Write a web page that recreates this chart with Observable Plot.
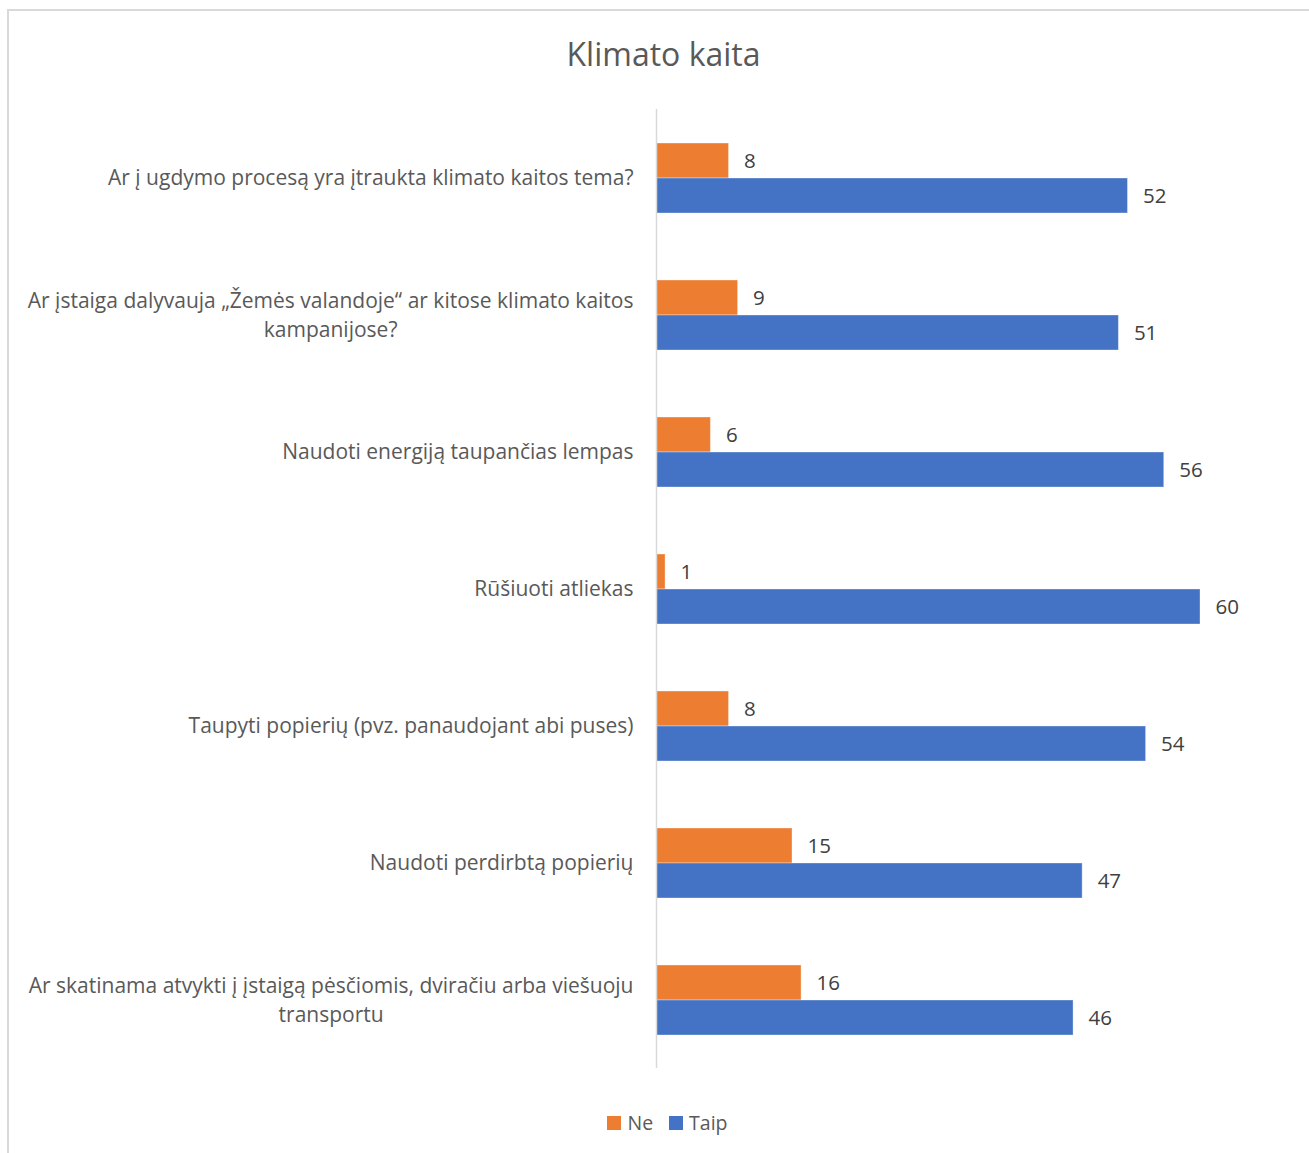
<!DOCTYPE html>
<html>
<head>
<meta charset="utf-8">
<script src="https://cdn.jsdelivr.net/npm/d3@7"></script>
<script src="https://cdn.jsdelivr.net/npm/@observablehq/plot@0.6"></script>
<style>
  html, body { margin: 0; padding: 0; background: #fff; }
  body { width: 1309px; height: 1153px; position: relative; overflow: hidden; font-family: "Open Sans", sans-serif; }
  #frame { position: absolute; left: 7px; top: 9px; width: 1320px; height: 1160px; border: 2px solid #d9d9d9; box-sizing: border-box; }
  #title { position: absolute; left: 9px; width: 1309px; top: 32px; text-align: center; font-size: 32px; color: #595959; line-height: 44px; }
  #chart { position: absolute; left: 0; top: 107px; }
  #legend { position: absolute; left: 0; width: 1309px; top: 1110px; display: flex; justify-content: center; gap: 16px; font-size: 19.5px; color: #595959; padding-left: 26px; box-sizing: border-box; }
  .item { display: flex; align-items: center; gap: 6px; line-height: 26px; }
  .sw { width: 14px; height: 14px; display: inline-block; }
</style>
</head>
<body>
<div id="frame"></div>
<div id="title">Klimato kaita</div>
<div id="chart"></div>
<div id="legend">
  <div class="item"><span class="sw" style="background:#ED7D31"></span>Ne</div>
  <div class="item"><span class="sw" style="background:#4472C4"></span>Taip</div>
</div>
<script>
const categories = [
  "Ar į ugdymo procesą yra įtraukta klimato kaitos tema?",
  "Ar įstaiga dalyvauja „Žemės valandoje“ ar kitose klimato kaitos\nkampanijose?",
  "Naudoti energiją taupančias lempas",
  "Rūšiuoti atliekas",
  "Taupyti popierių (pvz. panaudojant abi puses)",
  "Naudoti perdirbtą popierių",
  "Ar skatinama atvykti į įstaigą pėsčiomis, dviračiu arba viešuoju\ntransportu"
];
const series = ["Ne", "Taip"];
const ne = [8, 9, 6, 1, 8, 15, 16];
const taip = [52, 51, 56, 60, 54, 47, 46];
const colors = ["#ED7D31", "#4472C4"];

const rows = categories.flatMap((c, i) => [
  {cat: c, series: "Ne", value: ne[i]},
  {cat: c, series: "Taip", value: taip[i]}
]);

const chart = Plot.plot({
  width: 1309,
  height: 963,
  marginLeft: 656,
  marginRight: 109,
  marginTop: 0,
  marginBottom: 0,
  style: {fontFamily: "Open Sans, sans-serif", color: "#595959", background: "transparent"},
  x: {domain: [0, 60], axis: null},
  y: {domain: series, paddingInner: 0, paddingOuter: 0.92, axis: null},
  fy: {domain: categories, padding: 0, label: null},
  color: {domain: series, range: colors},
  marks: [
    Plot.barX(rows, {fy: "cat", y: "series", x: "value", fill: "series", stroke: "#ffffff", strokeOpacity: 0.35, strokeWidth: 1}),
    Plot.ruleX([0], {stroke: "#d9d9d9", strokeWidth: 1.5}),
    Plot.text(rows, {fy: "cat", y: "series", x: "value", text: d => String(d.value), dx: 15, textAnchor: "start", fill: "#404040", fontSize: 20.5}),
    Plot.axisFy({anchor: "left", tickSize: 0, tickPadding: 23, fontSize: 21, lineHeight: 1.4, dy: -2, label: null, textAnchor: "end", lineAnchor: "middle", fill: "#595959"})
  ]
});
document.getElementById("chart").appendChild(chart);

// center the lines of multi-line category labels relative to each other
d3.select(chart).selectAll("text").each(function() {
  const tspans = this.querySelectorAll("tspan");
  if (tspans.length > 1) {
    const w = this.getBBox().width;
    this.setAttribute("text-anchor", "middle");
    const t = this.getAttribute("transform") || "";
    this.setAttribute("transform", t + ` translate(${-w / 2},0)`);
  }
});
</script>
</body>
</html>
